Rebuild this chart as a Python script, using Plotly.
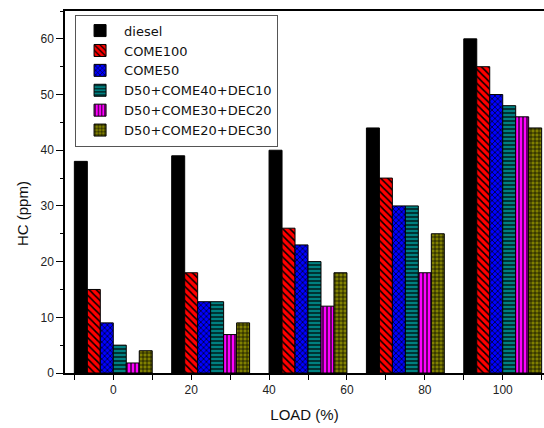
import plotly.graph_objects as go

# ---- data ----
loads = [0, 25, 50, 75, 100]
series_names = ["diesel", "COME100", "COME50",
                "D50+COME40+DEC10", "D50+COME30+DEC20", "D50+COME20+DEC30"]
diesel = [38, 39, 40, 44, 60]
come100 = [15, 18, 26, 35, 55]
come50 = [9, 12.8, 23, 30, 50]
dec10 = [5, 12.8, 20, 30, 48]
dec20 = [1.8, 6.9, 12, 18, 46]
dec30 = [4, 9, 18, 25, 44]
x_tick_vals = [0, 20, 40, 60, 80, 100]
y_tick_vals = [0, 10, 20, 30, 40, 50, 60]

series_values = [diesel, come100, come50, dec10, dec20, dec30]

# ---- styles ----
colors = ["#000000", "#FF0000", "#0000FF", "#008080", "#FF00FF", "#808000"]
shapes = ["", "\\", "x", "-", "|", "+"]
sizes = [6, 5, 4, 4, 4, 4]

FONT = "Arial, 'Liberation Sans', sans-serif"
LEG_FONT = "'DejaVu Sans', Verdana, sans-serif"

fig = go.Figure()
for name, vals, col, shp, sz in zip(series_names, series_values, colors, shapes, sizes):
    pattern = dict(shape=shp, fgcolor="#000000", bgcolor=col, size=sz,
                   solidity=0.3, fillmode="replace")
    fig.add_trace(go.Bar(
        x=loads, y=vals, name=name,
        marker=dict(color=col, pattern=pattern,
                    line=dict(color="#000000", width=1)),
    ))

fig.update_layout(
    width=544, height=428,
    margin=dict(l=65, r=0, t=11, b=55),
    paper_bgcolor="white", plot_bgcolor="white",
    barmode="group", bargap=0.2, bargroupgap=0,
    font=dict(family=FONT, color="#222222"),
    showlegend=True,
    legend=dict(
        x=0.021, y=0.99, xanchor="left", yanchor="top",
        bgcolor="white", bordercolor="#555555", borderwidth=1,
        font=dict(family=LEG_FONT, size=13, color="#111111"),
        itemwidth=38, tracegroupgap=0,
    ),
    xaxis=dict(
        range=[-12.4, 110.6],
        tickmode="array", tickvals=x_tick_vals,
        ticks="outside", ticklen=5, tickwidth=1, tickcolor="#000000",
        minor=dict(dtick=10, tick0=0, ticks="outside", ticklen=5, tickcolor="#000000"),
        showline=True, linecolor="#000000", linewidth=1.5, mirror=True,
        showgrid=False, zeroline=False,
        tickfont=dict(size=12, color="#222222"),
        title=dict(text="LOAD (%)", font=dict(size=15, color="#111111"), standoff=13),
    ),
    yaxis=dict(
        range=[0, 65],
        tickmode="array", tickvals=y_tick_vals,
        ticks="outside", ticklen=7, tickwidth=1, tickcolor="#000000",
        minor=dict(dtick=5, tick0=0, ticks="outside", ticklen=3, tickcolor="#000000"),
        showline=True, linecolor="#000000", linewidth=1.5, mirror=False,
        showgrid=False, zeroline=False,
        tickfont=dict(size=12, color="#222222"),
    ),
)

fig.add_annotation(
    text="HC (ppm)", textangle=-90, showarrow=False,
    xref="paper", yref="paper", x=-0.089, y=0.44,
    xanchor="center", yanchor="middle",
    font=dict(family=FONT, size=15, color="#111111"),
)

fig.write_html("out.html")
